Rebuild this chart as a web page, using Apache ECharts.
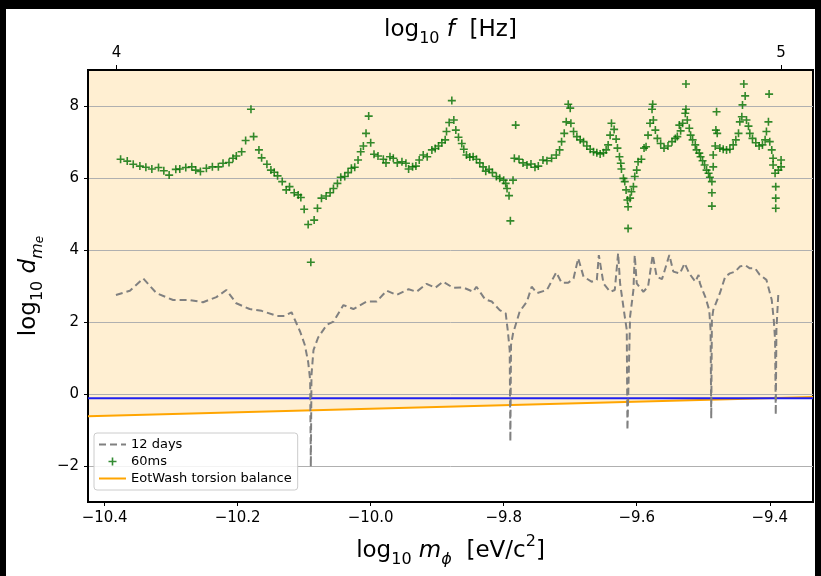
<!DOCTYPE html>
<html>
<head>
<meta charset="utf-8">
<script src="https://cdn.jsdelivr.net/npm/echarts@6/dist/echarts.min.js"></script>
<style>
html, body { margin: 0; padding: 0; background: #000; width: 821px; height: 576px; overflow: hidden; }
#chartContainer { position: absolute; left: 6px; top: 9px; width: 809px; height: 567px; background: #fff; }
</style>
</head>
<body>
<div id="chartContainer"></div>
<script>
'use strict';
// 60ms run: log10 m_phi and log10 d_me
const ms60X = [
    -10.376, -10.366, -10.357, -10.347, -10.338, -10.329, -10.319, -10.311, -10.303, -10.293,
    -10.287, -10.278, -10.269, -10.263, -10.256, -10.247, -10.238, -10.229, -10.222, -10.213,
    -10.207, -10.202, -10.194, -10.188, -10.180, -10.176, -10.168, -10.164, -10.156, -10.150,
    -10.145, -10.140, -10.133, -10.127, -10.122, -10.115, -10.109, -10.105, -10.100, -10.094,
    -10.090, -10.085, -10.080, -10.074, -10.067, -10.061, -10.056, -10.050, -10.045, -10.039,
    -10.034, -10.029, -10.024, -10.019, -10.015, -10.011, -10.007, -10.003, -10.000, -9.995,
    -9.989, -9.981, -9.977, -9.971, -9.966, -9.960, -9.953, -9.947, -9.943, -9.937,
    -9.932, -9.927, -9.921, -9.915, -9.908, -9.903, -9.898, -9.893, -9.888, -9.886,
    -9.882, -9.878, -9.875, -9.872, -9.868, -9.863, -9.860, -9.856, -9.851, -9.846,
    -9.841, -9.836, -9.831, -9.827, -9.822, -9.817, -9.811, -9.806, -9.800, -9.797,
    -9.795, -9.792, -9.790, -9.786, -9.784, -9.782, -9.777, -9.771, -9.765, -9.759,
    -9.753, -9.748, -9.741, -9.735, -9.728, -9.721, -9.716, -9.713, -9.709, -9.706,
    -9.703, -9.700, -9.699, -9.695, -9.690, -9.685, -9.680, -9.675, -9.670, -9.665,
    -9.660, -9.655, -9.650, -9.646, -9.643, -9.640, -9.638, -9.634, -9.631, -9.629,
    -9.626, -9.624, -9.623, -9.620, -9.618, -9.616, -9.614, -9.613, -9.613, -9.610,
    -9.608, -9.605, -9.603, -9.600, -9.598, -9.593, -9.589, -9.586, -9.583, -9.580,
    -9.577, -9.576, -9.575, -9.572, -9.569, -9.564, -9.559, -9.553, -9.547, -9.542,
    -9.539, -9.536, -9.534, -9.531, -9.527, -9.526, -9.526, -9.524, -9.521, -9.519,
    -9.516, -9.512, -9.510, -9.506, -9.504, -9.501, -9.498, -9.495, -9.492, -9.490,
    -9.487, -9.487, -9.487, -9.485, -9.485, -9.482, -9.480, -9.481, -9.479, -9.475,
    -9.470, -9.465, -9.460, -9.455, -9.451, -9.447, -9.445, -9.442, -9.441, -9.439,
    -9.437, -9.435, -9.432, -9.430, -9.426, -9.421, -9.416, -9.411, -9.407, -9.405,
    -9.402, -9.401, -9.400, -9.397, -9.395, -9.395, -9.392, -9.391, -9.391, -9.391,
    -9.387, -9.383, -9.383
];
const ms60Y = [
    6.52, 6.47, 6.38, 6.33, 6.30, 6.25, 6.29, 6.20, 6.08, 6.24,
    6.25, 6.29, 6.31, 6.22, 6.18, 6.27, 6.31, 6.31, 6.41, 6.43,
    6.55, 6.61, 6.73, 7.04, 7.91, 7.15, 6.78, 6.56, 6.38, 6.22,
    6.16, 6.06, 5.90, 5.67, 5.76, 5.59, 5.53, 5.46, 5.13, 4.71,
    3.66, 4.83, 5.16, 5.44, 5.50, 5.59, 5.71, 5.85, 6.02, 6.04,
    6.15, 6.27, 6.30, 6.50, 6.73, 6.89, 7.24, 7.72, 6.98, 6.66,
    6.61, 6.52, 6.42, 6.59, 6.55, 6.42, 6.45, 6.41, 6.25, 6.31,
    6.33, 6.50, 6.64, 6.59, 6.78, 6.82, 6.89, 6.98, 7.06, 7.29,
    7.54, 8.15, 7.61, 7.33, 7.13, 6.96, 6.80, 6.64, 6.58, 6.59,
    6.52, 6.42, 6.31, 6.19, 6.24, 6.15, 6.04, 5.99, 5.94, 5.85,
    5.71, 5.51, 4.81, 5.94, 6.55, 7.47, 6.52, 6.42, 6.36, 6.39,
    6.30, 6.33, 6.50, 6.48, 6.55, 6.64, 6.78, 7.01, 7.24, 7.56,
    8.05, 7.94, 7.52, 7.29, 7.15, 7.06, 7.01, 6.89, 6.80, 6.73,
    6.70, 6.67, 6.70, 6.78, 6.92, 7.19, 7.52, 7.35, 7.08, 6.83,
    6.59, 6.41, 6.25, 5.99, 5.90, 5.67, 5.39, 5.20, 4.60, 5.44,
    5.62, 5.76, 6.04, 6.22, 6.45, 6.52, 6.83, 6.87, 7.19, 7.52,
    7.91, 8.05, 7.61, 7.33, 7.10, 6.96, 6.83, 6.89, 7.01, 7.10,
    7.15, 7.47, 7.31, 7.52, 7.80, 7.91, 8.61, 7.61, 7.38, 7.19,
    7.06, 6.92, 6.78, 6.69, 6.59, 6.48, 6.36, 6.22, 6.13, 6.02,
    5.90, 5.59, 5.22, 6.31, 6.64, 6.89, 7.84, 7.33, 7.24, 6.83,
    6.80, 6.78, 6.80, 6.92, 7.06, 7.24, 7.56, 7.70, 8.03, 8.61,
    8.28, 7.61, 7.44, 7.24, 7.10, 6.98, 6.89, 6.92, 7.06, 7.29,
    7.56, 8.33, 7.01, 6.78, 6.55, 6.36, 6.13, 5.76, 5.44, 5.16,
    6.22, 6.50, 6.31
];
// 12 days run
const days12X = [
    -10.383, -10.362, -10.342, -10.322, -10.297, -10.272, -10.252, -10.232, -10.217, -10.202,
    -10.182, -10.164, -10.141, -10.129, -10.119, -10.106, -10.099, -10.094, -10.091, -10.090,
    -10.089, -10.086, -10.079, -10.066, -10.056, -10.041, -10.026, -10.006, -9.991, -9.976,
    -9.961, -9.943, -9.931, -9.916, -9.903, -9.891, -9.876, -9.861, -9.846, -9.841,
    -9.828, -9.818, -9.806, -9.797, -9.794, -9.791, -9.790, -9.789, -9.786, -9.776,
    -9.765, -9.758, -9.750, -9.735, -9.721, -9.713, -9.703, -9.695, -9.688, -9.680,
    -9.668, -9.660, -9.657, -9.650, -9.640, -9.633, -9.628, -9.625, -9.618, -9.615,
    -9.614, -9.610, -9.605, -9.603, -9.600, -9.590, -9.583, -9.576, -9.570, -9.562,
    -9.551, -9.545, -9.535, -9.528, -9.521, -9.512, -9.507, -9.505, -9.497, -9.491,
    -9.489, -9.488, -9.487, -9.485, -9.475, -9.467, -9.460, -9.452, -9.445, -9.437,
    -9.430, -9.422, -9.415, -9.405, -9.397, -9.394, -9.392, -9.391, -9.390, -9.387
];
const days12Y = [
    2.75, 2.87, 3.21, 2.80, 2.61, 2.61, 2.55, 2.69, 2.89, 2.52,
    2.36, 2.31, 2.17, 2.17, 2.27, 1.73, 1.36, 0.89, 0.39, -2.02,
    0.53, 1.22, 1.57, 1.92, 2.01, 2.47, 2.36, 2.57, 2.57, 2.87,
    2.75, 2.91, 2.84, 3.06, 2.95, 3.12, 2.95, 2.96, 2.84, 2.98,
    2.63, 2.57, 2.33, 2.24, 1.78, 1.22, -1.32, 1.36, 1.68, 2.29,
    2.57, 2.98, 2.80, 2.89, 3.38, 3.09, 3.09, 3.21, 3.77, 3.26,
    3.12, 3.17, 3.86, 3.07, 2.84, 2.89, 3.91, 3.07, 2.15, 1.78,
    -1.00, 2.15, 2.89, 3.86, 3.07, 2.84, 2.98, 3.86, 3.26, 3.19,
    3.86, 3.40, 3.35, 3.63, 3.35, 3.12, 3.31, 3.07, 2.70, 2.33,
    1.78, -0.68, 2.06, 2.33, 2.80, 3.26, 3.35, 3.40, 3.54, 3.58,
    3.49, 3.49, 3.31, 3.17, 2.61, 2.06, 1.50, -0.58, 1.78, 2.84
];
// EotWash torsion balance limit and the blue reference level
const eotX = [-10.425, -9.335];
const eotY = [-0.62, -0.08];
const blueX = [-10.425, -9.335];
const blueY = [-0.12, -0.12];

const xTicks = [-10.4, -10.2, -10.0, -9.8, -9.6, -9.4];
const yTicks = [-2, 0, 2, 4, 6, 8];
const fTicks = [4, 5];

let zip = (xs, ys) => xs.map((x, i) => [x, ys[i]]);
let minus = v => String(v).replace('-', '\u2212');

let initChart = (function() {
    let chartContainer = document.getElementById('chartContainer');
    let demoChart = echarts.init(chartContainer);
    let font = 'DejaVu Sans';

    let titleRich = {
        a: { fontSize: 23, fontFamily: font, color: '#000', lineHeight: 34 },
        i: { fontSize: 23, fontFamily: font, fontStyle: 'italic', color: '#000', lineHeight: 34 },
        s: { fontSize: 16, fontFamily: font, color: '#000', lineHeight: 16, verticalAlign: 'bottom' },
        si: { fontSize: 16, fontFamily: font, fontStyle: 'italic', color: '#000', lineHeight: 16, verticalAlign: 'bottom' },
        ss: { fontSize: 12, fontFamily: font, fontStyle: 'italic', color: '#000', lineHeight: 10, verticalAlign: 'bottom' },
        p: { fontSize: 16, fontFamily: font, color: '#000', lineHeight: 16, verticalAlign: 'top' }
    };
    let tickLabel = { fontSize: 15, fontFamily: font, color: '#000' };
    let plus = 'path://M0,4 H4 V0 H6 V4 H10 V6 H6 V10 H4 V6 H0 Z';

    let option = {
        animation: false,
        backgroundColor: '#fff',
        grid: {
            left: 82,
            right: 2,
            top: 61,
            bottom: 74,
            outerBoundsMode: 'none',
            show: true,
            borderColor: '#000',
            borderWidth: 2,
            backgroundColor: 'transparent'
        },
        legend: {
            orient: 'vertical',
            left: 88,
            top: 424,
            data: [
                { name: '12 days', itemStyle: { opacity: 0 } },
                { name: '60ms' },
                { name: 'EotWash torsion balance', itemStyle: { opacity: 0 } }
            ],
            itemWidth: 27,
            itemHeight: 8,
            itemGap: 4,
            padding: [5, 6, 5, 4],
            backgroundColor: 'rgba(255,255,255,0.85)',
            borderColor: '#cccccc',
            borderWidth: 1,
            borderRadius: 3,
            textStyle: { fontSize: 13, fontFamily: font, color: '#000' }
        },
        xAxis: [{
            type: 'value',
            position: 'bottom',
            min: -10.425,
            max: -9.335,
            name: '{a|log}{s|10}{a| }{i|m}{si|ϕ}{a|  [eV/c}{p|2}{a|]}',
            nameLocation: 'middle',
            nameGap: 32,
            nameTextStyle: { rich: titleRich },
            axisLine: { onZero: false, lineStyle: { color: '#000', width: 2 } },
            axisTick: { length: 4, lineStyle: { color: '#000' }, customValues: xTicks },
            axisLabel: Object.assign({ margin: 9, customValues: xTicks, formatter: v => minus(v.toFixed(1)) }, tickLabel),
            splitLine: { show: false }
        }, {
            type: 'value',
            position: 'top',
            min: 3.957,
            max: 5.048,
            name: '{a|log}{s|10}{a| }{i|f}{a|  [Hz]}',
            nameLocation: 'middle',
            nameGap: 23,
            nameMoveOverlap: false,
            nameTextStyle: { rich: titleRich },
            axisLine: { onZero: false, lineStyle: { color: '#000', width: 2 } },
            axisTick: { length: 5, lineStyle: { color: '#000' }, customValues: fTicks },
            axisLabel: Object.assign({ margin: 9, customValues: fTicks, formatter: v => String(v) }, tickLabel),
            splitLine: { show: false }
        }],
        yAxis: {
            type: 'value',
            min: -3,
            max: 9,
            name: '{a|log}{s|10}{a| }{i|d}{si|m}{ss|e}',
            nameLocation: 'middle',
            nameRotate: 90,
            nameGap: 38,
            nameTextStyle: { rich: titleRich },
            axisLine: { show: true, onZero: false, lineStyle: { color: '#000', width: 2 } },
            axisTick: { show: true, length: 4, lineStyle: { color: '#000' }, customValues: yTicks },
            axisLabel: Object.assign({ margin: 9, customValues: yTicks, formatter: v => minus(v) }, tickLabel),
            splitLine: { show: true, lineStyle: { color: '#b0b0b0', width: 1 } }
        },
        series: [{
            name: 'fill',
            type: 'line',
            data: zip(eotX, eotY),
            symbol: 'none',
            z: -1,
            lineStyle: { width: 0 },
            areaStyle: { origin: 'end', color: 'rgba(255,165,0,0.25)' },
            silent: true
        }, {
            name: 'EotWash torsion balance',
            type: 'line',
            data: zip(eotX, eotY),
            symbol: 'none',
            z: 3,
            lineStyle: { color: '#ffa500', width: 2 },
            itemStyle: { color: '#ffa500' }
        }, {
            name: 'blue',
            type: 'line',
            data: zip(blueX, blueY),
            symbol: 'none',
            z: 4,
            lineStyle: { color: '#2020f0', width: 2 }
        }, {
            name: '12 days',
            type: 'line',
            data: zip(days12X, days12Y),
            symbol: 'none',
            z: 5,
            lineStyle: { color: '#808080', width: 2, type: [7, 4] },
            itemStyle: { color: '#808080' }
        }, {
            name: '60ms',
            type: 'scatter',
            data: zip(ms60X, ms60Y),
            symbol: plus,
            symbolSize: 8,
            z: 6,
            itemStyle: { color: '#006f00' }
        }]
    };

    demoChart.setOption(option);
})();
</script>
</body>
</html>
